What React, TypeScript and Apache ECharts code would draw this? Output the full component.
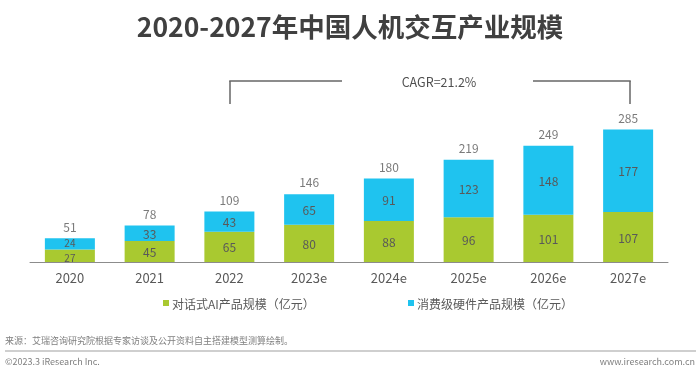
import React, { useEffect, useRef } from "react";
import * as echarts from "echarts";

const categories = ["2020", "2021", "2022", "2023e", "2024e", "2025e", "2026e", "2027e"];
const aiValues = [27, 45, 65, 80, 88, 96, 101, 107];
const hwValues = [24, 33, 43, 65, 91, 123, 148, 177];
const totals = [51, 78, 109, 146, 180, 219, 249, 285];
const aiName = "对话式AI产品规模（亿元）";
const hwName = "消费级硬件产品规模（亿元）";
const cagrText = "CAGR=21.2%";

const FONT = "'Noto Sans CJK SC', 'Noto Sans', sans-serif";
const GREEN = "#a9c930";
const BLUE = "#1fc3ef";

const withSmallFirst = (arr: number[], dy: number) =>
  arr.map((v, i) =>
    i === 0 ? { value: v, label: { fontSize: 10, lineHeight: 10, offset: [0, dy] } } : v
  );

export default function App() {
  const ref = useRef<HTMLDivElement>(null);
  useEffect(() => {
    if (!ref.current) return;
    const chart = echarts.init(ref.current, undefined, { renderer: "svg" });
    const lineStyle = { stroke: "#666", lineWidth: 1.5 };
    chart.setOption({
      animation: false,
      textStyle: { fontFamily: FONT },
      title: {
        text: "2020-2027年中国人机交互产业规模",
        left: "center",
        top: 7,
        textStyle: { fontSize: 26.5, fontWeight: "bold", color: "#404040", fontFamily: FONT },
      },
      grid: { left: 30, right: 32, top: 129, bottom: 112 },
      legend: [
        {
          data: [aiName],
          left: 158,
          top: 292,
          icon: "rect",
          itemWidth: 6,
          itemHeight: 6,
          textStyle: { fontSize: 12, color: "#595959", fontFamily: FONT, padding: [0, 0, 0, -2] },
        },
        {
          data: [hwName],
          left: 403,
          top: 292,
          icon: "rect",
          itemWidth: 6,
          itemHeight: 6,
          textStyle: { fontSize: 12, color: "#595959", fontFamily: FONT, padding: [0, 0, 0, -2] },
        },
      ],
      xAxis: {
        type: "category",
        data: categories,
        axisLine: { lineStyle: { color: "#8c8c8c", width: 1 } },
        axisTick: { show: false },
        axisLabel: { fontSize: 13, color: "#595959", margin: 9, fontFamily: FONT },
      },
      yAxis: { type: "value", min: 0, max: 285, show: false, splitLine: { show: false } },
      series: [
        {
          name: aiName,
          type: "bar",
          stack: "s",
          data: withSmallFirst(aiValues, 1.5),
          barWidth: 50,
          itemStyle: { color: GREEN },
          label: { show: true, position: "inside", fontSize: 12, color: "#595959", fontFamily: FONT },
        },
        {
          name: hwName,
          type: "bar",
          stack: "s",
          data: withSmallFirst(hwValues, -1.5),
          barWidth: 50,
          itemStyle: { color: BLUE },
          label: { show: true, position: "inside", fontSize: 12, color: "#595959", fontFamily: FONT },
        },
        {
          name: "total",
          type: "scatter",
          data: totals,
          symbolSize: 2,
          itemStyle: { color: "rgba(0,0,0,0)" },
          label: {
            show: true,
            position: "top",
            distance: 5,
            fontSize: 12,
            color: "#595959",
            fontFamily: FONT,
          },
          silent: true,
        },
      ],
      graphic: [
        { type: "line", shape: { x1: 230, y1: 104, x2: 230, y2: 81 }, style: lineStyle },
        { type: "line", shape: { x1: 229.25, y1: 81, x2: 342, y2: 81 }, style: lineStyle },
        { type: "line", shape: { x1: 533, y1: 81, x2: 630.75, y2: 81 }, style: lineStyle },
        { type: "line", shape: { x1: 630, y1: 81, x2: 630, y2: 104 }, style: lineStyle },
        {
          type: "text",
          x: 439,
          y: 81,
          style: {
            text: cagrText,
            fontSize: 12.5,
            fill: "#505050",
            fontFamily: FONT,
            align: "center",
            verticalAlign: "middle",
          },
        },
        {
          type: "text",
          x: 5,
          y: 340,
          style: {
            text: "来源：艾瑞咨询研究院根据专家访谈及公开资料自主搭建模型测算绘制。",
            fontSize: 9,
            fill: "#7f7f7f",
            fontFamily: FONT,
            verticalAlign: "middle",
          },
        },
        { type: "line", shape: { x1: 5, y1: 351, x2: 696, y2: 351 }, style: { stroke: "#bfbfbf", lineWidth: 1.5 } },
        {
          type: "text",
          x: 5,
          y: 361,
          style: { text: "©2023.3 iResearch Inc.", fontSize: 9, fill: "#7f7f7f", fontFamily: FONT, verticalAlign: "middle" },
        },
        {
          type: "text",
          x: 695,
          y: 361,
          style: {
            text: "www.iresearch.com.cn",
            fontSize: 9,
            fill: "#7f7f7f",
            fontFamily: FONT,
            align: "right",
            verticalAlign: "middle",
          },
        },
      ],
    });
    return () => chart.dispose();
  }, []);
  return <div ref={ref} style={{ width: 700, height: 374, position: "fixed", left: 0, top: 0 }} />;
}
